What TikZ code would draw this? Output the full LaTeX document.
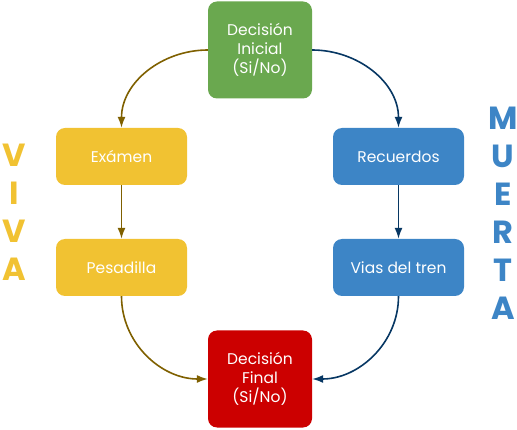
\documentclass[tikz,border=0pt]{standalone}
\usepackage{fontspec}
\setmainfont{Poppins}
\usetikzlibrary{arrows.meta}

\definecolor{verde}{HTML}{6AA84F}
\definecolor{amarillo}{HTML}{F1C232}
\definecolor{azul}{HTML}{3D85C6}
\definecolor{rojo}{HTML}{CC0000}
\definecolor{oro}{HTML}{7F6000}
\definecolor{marino}{HTML}{073763}

\tikzset{
	caja/.style={rounded corners=9pt, text=white, align=center, inner sep=0pt,
		font=\fontsize{15.5}{19}\selectfont},
	decision/.style={caja, minimum width=104pt, minimum height=97pt},
	paso/.style={caja, minimum width=131pt, minimum height=57pt},
	flecha/.style={line width=1.6pt, -{Latex[length=11pt,width=8pt]}},
	letra/.style={font=\fontsize{32}{32}\selectfont\bfseries, inner sep=0pt}
}

\begin{document}
\begin{tikzpicture}[x=1pt, y=-1pt]
	
	\useasboundingbox (0,0) rectangle (517,430);
	
	% decisiones
	\node[decision, fill=verde] (inicial) at (260,50) {Decisión\\Inicial\\(Si/No)};
	\node[decision, fill=rojo] (final) at (260,379) {Decisión\\Final\\(Si/No)};
	
	% camino de la izquierda
	\node[paso, fill=amarillo] (examen) at (121.5,156.5) {Exámen};
	\node[paso, fill=amarillo] (pesadilla) at (121.5,267.5) {Pesadilla};
	
	% camino de la derecha
	\node[paso, fill=azul] (recuerdos) at (398.5,156.5) {Recuerdos};
	\node[paso, fill=azul] (vias) at (398.5,267.5) {Vias del tren};
	
	\draw[flecha, oro] (inicial.west) to[out=180, in=90] (examen.north);
	\draw[flecha, oro] (examen) -- (pesadilla);
	\draw[flecha, oro] (pesadilla.south) to[out=-90, in=180] (final.west);
	
	\draw[flecha, marino] (inicial.east) to[out=0, in=90] (recuerdos.north);
	\draw[flecha, marino] (recuerdos) -- (vias);
	\draw[flecha, marino] (vias.south) to[out=-90, in=0] (final.east);
	
	% letras
	\foreach \l [count=\i] in {V,I,V,A}
		\node[letra, text=amarillo] (viva\i) at (14,{155+38*(\i-1)}) {\l};
	\foreach \l [count=\i] in {M,U,E,R,T,A}
		\node[letra, text=azul] (muerta\i) at (503,{118+38*(\i-1)}) {\l};
	
\end{tikzpicture}
\end{document}
